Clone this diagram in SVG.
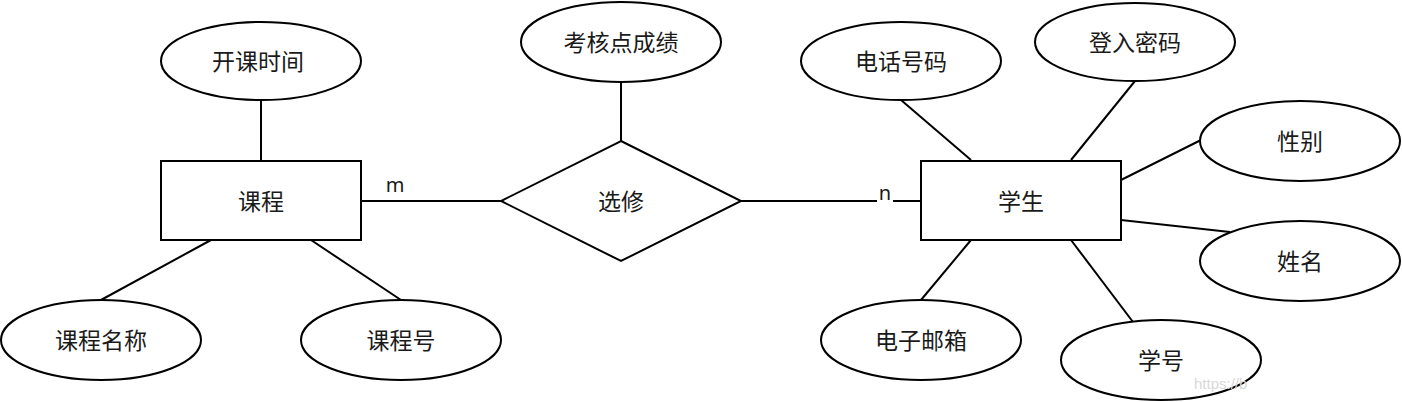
<svg xmlns="http://www.w3.org/2000/svg" width="1402" height="402" viewBox="0 0 1402 402">
  <style>
    .shape { fill: #ffffff; stroke: #000000; stroke-width: 2; }
    .conn line, .conn polyline { stroke: #000000; stroke-width: 2; fill: none; }
    .lbl { font-family: "Noto Sans CJK SC", "Noto Sans", sans-serif; font-size: 23px; fill: #1a1a1a; text-anchor: middle; }
    .card { font-family: "Noto Sans", "Liberation Sans", sans-serif; fill: #1a1a1a; text-anchor: middle; }
  </style>
  <defs>
    <clipPath id="wmclip"><rect x="1180" y="370" width="75" height="30"/></clipPath>
  </defs>
  <rect width="1402" height="402" fill="#ffffff"/>

  <g class="conn" id="connectors">
    <line x1="261" y1="100" x2="261" y2="161"/>
    <line x1="211" y1="240" x2="101" y2="300"/>
    <line x1="311" y1="240" x2="401" y2="300"/>
    <line x1="361" y1="201" x2="501" y2="201"/>
    <line x1="621" y1="82" x2="621" y2="141"/>
    <line x1="741" y1="201" x2="921" y2="201"/>
    <line x1="901" y1="100" x2="971" y2="160"/>
    <line x1="1135" y1="81" x2="1071" y2="160"/>
    <line x1="1121" y1="180" x2="1201" y2="140"/>
    <line x1="1121" y1="220" x2="1230" y2="232"/>
    <line x1="1071" y1="240" x2="1133" y2="322"/>
    <line x1="971" y1="240" x2="921" y2="300"/>
    <rect x="877" y="192" width="16" height="16" fill="#ffffff" stroke="none"/>
    <text class="card" x="395" y="192" font-size="20">m</text>
    <text class="card" x="885" y="200" font-size="20">n</text>
  </g>

  <g id="kc_time">
    <ellipse class="shape" cx="261" cy="61" rx="100" ry="39"/>
    <text class="lbl" x="258" y="70">开课时间</text>
  </g>
  <g id="course">
    <rect class="shape" x="161" y="161" width="200" height="79"/>
    <text class="lbl" x="261" y="210">课程</text>
  </g>
  <g id="course_name">
    <ellipse class="shape" cx="101" cy="340" rx="100" ry="40"/>
    <text class="lbl" x="101" y="349">课程名称</text>
  </g>
  <g id="course_no">
    <ellipse class="shape" cx="401" cy="340" rx="100" ry="40"/>
    <text class="lbl" x="401" y="349">课程号</text>
  </g>
  <g id="select">
    <polygon class="shape" points="621,141 741,201 621,261 501,201"/>
    <text class="lbl" x="621" y="210">选修</text>
  </g>
  <g id="score">
    <ellipse class="shape" cx="621" cy="42" rx="100" ry="40"/>
    <text class="lbl" x="621" y="51">考核点成绩</text>
  </g>
  <g id="student">
    <rect class="shape" x="921" y="161" width="200" height="79"/>
    <text class="lbl" x="1021" y="210">学生</text>
  </g>
  <g id="phone">
    <ellipse class="shape" cx="901" cy="61" rx="100" ry="39"/>
    <text class="lbl" x="901" y="70">电话号码</text>
  </g>
  <g id="password">
    <ellipse class="shape" cx="1135" cy="42" rx="100" ry="39"/>
    <text class="lbl" x="1135" y="51">登入密码</text>
  </g>
  <g id="gender">
    <ellipse class="shape" cx="1300" cy="141" rx="100" ry="40"/>
    <text class="lbl" x="1300" y="150">性别</text>
  </g>
  <g id="name">
    <ellipse class="shape" cx="1300" cy="261" rx="100" ry="40"/>
    <text class="lbl" x="1300" y="270">姓名</text>
  </g>
  <g id="student_no">
    <ellipse class="shape" cx="1161" cy="360" rx="100" ry="40"/>
    <text class="lbl" x="1161" y="369">学号</text>
  </g>
  <g id="email">
    <ellipse class="shape" cx="921" cy="340" rx="100" ry="40"/>
    <text class="lbl" x="921" y="349">电子邮箱</text>
  </g>

  <text x="1194" y="389" font-family="Liberation Sans, sans-serif" font-size="15" fill="#d8d8d8" clip-path="url(#wmclip)">https://b</text>
</svg>
